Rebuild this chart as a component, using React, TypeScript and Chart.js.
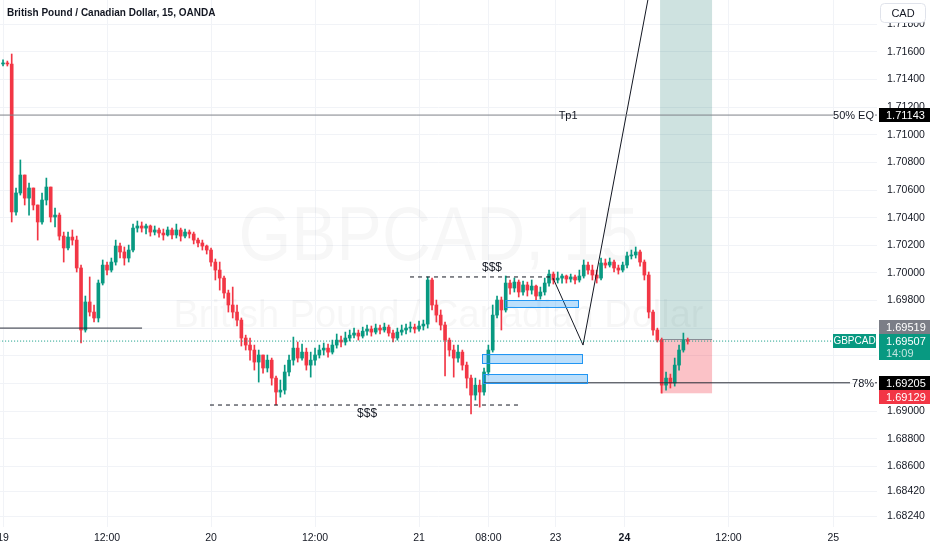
import React, { useEffect, useRef } from "react";
import { Chart, registerables } from "chart.js";

Chart.register(...registerables);

// ---------- DATA ----------
// 30-minute candles, positioned in trading hours from the "19" day start
const firstOpen = 1.71513;
const closes = [
  1.71520, 1.71513, 1.70441, 1.70579, 1.70709, 1.70542, 1.70615, 1.70492, 1.70369, 1.70528,
  1.70622, 1.70405, 1.70419, 1.70267, 1.70181, 1.70260, 1.70238, 1.70036, 1.69587, 1.69790,
  1.69717, 1.69674, 1.69927, 1.70057, 1.70021, 1.70079, 1.70195, 1.70152, 1.70108, 1.70166,
  1.70325, 1.70340, 1.70325, 1.70340, 1.70296, 1.70311, 1.70289, 1.70275, 1.70311, 1.70275,
  1.70311, 1.70267, 1.70296, 1.70282, 1.70238, 1.70217, 1.70195, 1.70166, 1.70079, 1.70021,
  1.69963, 1.69855, 1.69768, 1.69717, 1.69659, 1.69529, 1.69478, 1.69442, 1.69355, 1.69406,
  1.69312, 1.69369, 1.69239, 1.69138, 1.69152, 1.69283, 1.69369, 1.69456, 1.69384, 1.69427,
  1.69333, 1.69369, 1.69406, 1.69442, 1.69456, 1.69427, 1.69478, 1.69514, 1.69500, 1.69529,
  1.69550, 1.69565, 1.69543, 1.69579, 1.69594, 1.69572, 1.69601, 1.69587, 1.69608, 1.69565,
  1.69529, 1.69572, 1.69587, 1.69601, 1.69608, 1.69594, 1.69616, 1.69630, 1.69949, 1.69768,
  1.69695, 1.69623, 1.69514, 1.69442, 1.69384, 1.69427, 1.69333, 1.69239, 1.69116, 1.69188,
  1.69138, 1.69283, 1.69442, 1.69695, 1.69804, 1.69732, 1.69927, 1.69891, 1.69934, 1.69862,
  1.69913, 1.69876, 1.69905, 1.69833, 1.69862, 1.69927, 1.69992, 1.69949, 1.69963, 1.69978,
  1.69956, 1.69971, 1.69949, 1.69978, 1.70057, 1.70021, 1.69985, 1.69963, 1.70072, 1.70057,
  1.70079, 1.70036, 1.70021, 1.70057, 1.70123, 1.70130, 1.70152, 1.70079, 1.69985, 1.69717,
  1.69587, 1.69514, 1.69188, 1.69239, 1.69203, 1.69333, 1.69442, 1.69514, 1.69507,
];
const highs = [
  1.71542, 1.71534, 1.71585, 1.70615, 1.70818, 1.70687, 1.70651, 1.70600, 1.70492, 1.70579,
  1.70687, 1.70615, 1.70470, 1.70434, 1.70296, 1.70296, 1.70311, 1.70267, 1.70057, 1.69833,
  1.69971, 1.69768, 1.69949, 1.70094, 1.70079, 1.70108, 1.70238, 1.70217, 1.70188, 1.70202,
  1.70354, 1.70376, 1.70369, 1.70354, 1.70347, 1.70340, 1.70325, 1.70318, 1.70333, 1.70325,
  1.70354, 1.70325, 1.70318, 1.70311, 1.70296, 1.70253, 1.70238, 1.70202, 1.70181, 1.70101,
  1.70079, 1.69978, 1.69876, 1.69898, 1.69768, 1.69674, 1.69550, 1.69529, 1.69478, 1.69442,
  1.69398, 1.69406, 1.69384, 1.69254, 1.69225, 1.69333, 1.69406, 1.69536, 1.69500, 1.69485,
  1.69456, 1.69427, 1.69456, 1.69478, 1.69493, 1.69485, 1.69514, 1.69558, 1.69543, 1.69572,
  1.69587, 1.69601, 1.69587, 1.69608, 1.69623, 1.69616, 1.69630, 1.69623, 1.69637, 1.69623,
  1.69587, 1.69601, 1.69623, 1.69630, 1.69645, 1.69630, 1.69652, 1.69659, 1.69971, 1.69963,
  1.69804, 1.69732, 1.69645, 1.69529, 1.69478, 1.69478, 1.69442, 1.69355, 1.69261, 1.69239,
  1.69225, 1.69312, 1.69478, 1.69768, 1.69833, 1.69826, 1.69978, 1.69949, 1.69963, 1.69949,
  1.69942, 1.69934, 1.69949, 1.69913, 1.69898, 1.69963, 1.70021, 1.70007, 1.70007, 1.69992,
  1.69985, 1.69992, 1.69985, 1.70021, 1.70094, 1.70079, 1.70057, 1.70021, 1.70108, 1.70101,
  1.70108, 1.70094, 1.70057, 1.70079, 1.70152, 1.70166, 1.70188, 1.70166, 1.70094, 1.70007,
  1.69732, 1.69601, 1.69529, 1.69283, 1.69268, 1.69384, 1.69478, 1.69565, 1.69529,
];
const lows = [
  1.71498, 1.71498, 1.70369, 1.70419, 1.70564, 1.70492, 1.70419, 1.70456, 1.70238, 1.70354,
  1.70492, 1.70369, 1.70333, 1.70238, 1.70079, 1.70166, 1.70202, 1.70007, 1.69493, 1.69572,
  1.69688, 1.69645, 1.69645, 1.69913, 1.69985, 1.70007, 1.70057, 1.70108, 1.70057, 1.70079,
  1.70152, 1.70296, 1.70296, 1.70282, 1.70267, 1.70275, 1.70260, 1.70238, 1.70267, 1.70246,
  1.70253, 1.70231, 1.70253, 1.70253, 1.70210, 1.70188, 1.70166, 1.70137, 1.70050, 1.69949,
  1.69876, 1.69818, 1.69717, 1.69674, 1.69616, 1.69471, 1.69442, 1.69369, 1.69297, 1.69210,
  1.69275, 1.69283, 1.69188, 1.69044, 1.69101, 1.69123, 1.69254, 1.69333, 1.69355, 1.69369,
  1.69297, 1.69246, 1.69333, 1.69384, 1.69406, 1.69391, 1.69413, 1.69456, 1.69464, 1.69478,
  1.69507, 1.69529, 1.69514, 1.69529, 1.69550, 1.69543, 1.69558, 1.69558, 1.69572, 1.69543,
  1.69500, 1.69514, 1.69550, 1.69558, 1.69572, 1.69565, 1.69579, 1.69587, 1.69601, 1.69732,
  1.69645, 1.69587, 1.69254, 1.69398, 1.69246, 1.69355, 1.69297, 1.69167, 1.68979, 1.69080,
  1.69029, 1.69116, 1.69261, 1.69427, 1.69674, 1.69587, 1.69717, 1.69847, 1.69862, 1.69826,
  1.69840, 1.69833, 1.69847, 1.69804, 1.69811, 1.69840, 1.69905, 1.69920, 1.69927, 1.69927,
  1.69927, 1.69934, 1.69920, 1.69934, 1.69963, 1.69992, 1.69949, 1.69927, 1.69949, 1.70036,
  1.70043, 1.70007, 1.69992, 1.70007, 1.70036, 1.70101, 1.70108, 1.70050, 1.69949, 1.69674,
  1.69550, 1.69500, 1.69130, 1.69152, 1.69167, 1.69181, 1.69297, 1.69427, 1.69485,
];
const candleStepHours = 0.5;

const xTickValues = [0, 12, 24, 36, 48, 56, 63.75, 71.7, 83.7, 95.8];
const xTickLabels = ["19", "12:00", "20", "12:00", "21", "08:00", "23", "24", "12:00", "25"];
const boldXTick = "24";
const yTickValues = [
  1.6824, 1.6842, 1.686, 1.688, 1.69, 1.692, 1.694, 1.696, 1.698, 1.7,
  1.702, 1.704, 1.706, 1.708, 1.71, 1.712, 1.714, 1.716, 1.718,
];
const xMin = -0.35;
const xMax = 100.84;
const yMin = 1.68161;
const yMax = 1.71976;

// drawings
const tp1Level = 1.71143;
const fibLevel = 1.69205;
const leftLevel = 1.69601;
const lowSweepLevel = 1.69044;
const highSweepLevel = 1.69971;
const lastPrice = 1.69507;
const entryPrice = 1.69519;
const stopPrice = 1.69129;
const targetPrice = 1.7255;
const zigzagX = [63.46, 66.92, 75.27];
const zigzagY = [1.69963, 1.69478, 1.72266];
const positionX = [75.81, 81.81];
const boxesX0 = [57.92, 55.27, 55.38];
const boxesX1 = [66.35, 66.81, 67.38];
const boxesTop = [1.69804, 1.69413, 1.69268];
const boxesBottom = [1.69753, 1.69348, 1.69203];
const sweepLabelX = [56.42, 42.0];
const sweepLabelY = [1.70036, 1.68979];

const FONT = '"Liberation Sans", Arial, sans-serif';
const GREEN = "#089981";
const RED = "#f23645";
const GRID = "#f1f3f7";
const TEXT = "#131722";

function hline(level: number, x0: number, x1: number, color: string, dash: number[] = [], gapTo?: number[]) {
  const data: any[] = [
    { x: x0, y: level },
    { x: x1, y: level },
  ];
  if (gapTo) {
    data.push({ x: (x1 + gapTo[0]) / 2, y: null });
    data.push({ x: gapTo[0], y: level });
    data.push({ x: gapTo[1], y: level });
  }
  return {
    type: "line",
    data,
    borderColor: color,
    borderWidth: 1,
    borderDash: dash,
    pointRadius: 0,
    spanGaps: false,
    tension: 0,
    order: 0,
  };
}

const drawingsPlugin = {
  id: "drawings",
  beforeDatasetsDraw(chart: any) {
    const { ctx, chartArea: a, scales } = chart;
    const x = scales.x;
    const y = scales.y;
    ctx.save();
    ctx.beginPath();
    ctx.rect(a.left, a.top, a.right - a.left, a.bottom - a.top);
    ctx.clip();
    // watermark
    const cx = (a.left + a.right) / 2;
    ctx.fillStyle = "rgba(19,23,34,0.035)";
    ctx.textAlign = "center";
    ctx.textBaseline = "middle";
    ctx.font = `76px ${FONT}`;
    let w = ctx.measureText("GBPCAD, 15").width;
    ctx.save();
    ctx.translate(cx, 239);
    ctx.scale(400 / w, 1);
    ctx.fillText("GBPCAD, 15", 0, 0);
    ctx.restore();
    ctx.font = `38px ${FONT}`;
    w = ctx.measureText("British Pound / Canadian Dollar").width;
    ctx.save();
    ctx.translate(cx, 317);
    ctx.scale(530 / w, 1);
    ctx.fillText("British Pound / Canadian Dollar", 0, 0);
    ctx.restore();

    // long position zones
    const px0 = x.getPixelForValue(positionX[0]);
    const px1 = x.getPixelForValue(positionX[1]);
    const yT = y.getPixelForValue(targetPrice);
    const yE = y.getPixelForValue(entryPrice);
    const yS = y.getPixelForValue(stopPrice);
    ctx.fillStyle = "rgba(10,110,100,0.2)";
    ctx.fillRect(px0, yT, px1 - px0, yE - yT);
    ctx.fillStyle = "rgba(242,54,69,0.3)";
    ctx.fillRect(px0, yE, px1 - px0, yS - yE);
    ctx.strokeStyle = "#8a8d96";
    ctx.lineWidth = 1;
    ctx.beginPath();
    ctx.moveTo(px0, Math.round(yE) + 0.5);
    ctx.lineTo(px1, Math.round(yE) + 0.5);
    ctx.stroke();
    ctx.restore();
  },
  afterDatasetsDraw(chart: any) {
    const { ctx, scales } = chart;
    const x = scales.x;
    const y = scales.y;
    ctx.save();
    // boxes
    for (let i = 0; i < boxesX0.length; i++) {
      const bx0 = Math.round(x.getPixelForValue(boxesX0[i])) + 0.5;
      const bx1 = Math.round(x.getPixelForValue(boxesX1[i])) + 0.5;
      const by0 = Math.round(y.getPixelForValue(boxesTop[i])) + 0.5;
      const by1 = Math.round(y.getPixelForValue(boxesBottom[i])) + 0.5;
      ctx.fillStyle = "rgba(33,150,243,0.3)";
      ctx.fillRect(bx0, by0, bx1 - bx0, by1 - by0);
      ctx.strokeStyle = "#2196f3";
      ctx.lineWidth = 1;
      ctx.strokeRect(bx0, by0, bx1 - bx0, by1 - by0);
    }
    // texts
    ctx.fillStyle = TEXT;
    ctx.textAlign = "center";
    ctx.textBaseline = "middle";
    ctx.font = `11px ${FONT}`;
    ctx.fillText("Tp1", x.getPixelForValue(65.2), y.getPixelForValue(tp1Level) + 1);
    ctx.fillText("50% EQ", x.getPixelForValue(98.13), y.getPixelForValue(tp1Level) + 1);
    ctx.fillText("78%", x.getPixelForValue(99.23), y.getPixelForValue(fibLevel) + 1);
    ctx.font = `12px ${FONT}`;
    for (let i = 0; i < sweepLabelX.length; i++) {
      ctx.fillText("$$$", x.getPixelForValue(sweepLabelX[i]), y.getPixelForValue(sweepLabelY[i]));
    }
    ctx.restore();
  },
  afterDraw(chart: any) {
    const { ctx, chartArea: a, scales } = chart;
    const y = scales.y;
    ctx.save();
    ctx.font = `11px ${FONT}`;
    ctx.textBaseline = "middle";
    const tag = (text: string, top: number, h: number, bg: string, fg: string, sub?: string) => {
      ctx.fillStyle = bg;
      ctx.fillRect(a.right + 2, top, 51, h);
      ctx.fillStyle = fg;
      ctx.textAlign = "left";
      ctx.fillText(text, a.right + 9, top + 7.5);
      if (sub) {
        ctx.fillStyle = "rgba(255,255,255,0.75)";
        ctx.fillText(sub, a.right + 9, top + 19.5);
      }
    };
    const tpY = Math.round(y.getPixelForValue(tp1Level));
    tag(tp1Level.toFixed(5), tpY - 7, 14, "#000000", "#ffffff");
    const lastY = Math.round(y.getPixelForValue(lastPrice));
    tag(lastPrice.toFixed(5), lastY - 7, 26, GREEN, "#ffffff", "14:09");
    tag(entryPrice.toFixed(5), lastY - 21, 14, "#7b7e87", "#ffffff");
    const fibY = Math.round(y.getPixelForValue(fibLevel));
    tag(fibLevel.toFixed(5), fibY - 7, 14, "#000000", "#ffffff");
    tag(stopPrice.toFixed(5), fibY + 7, 14, RED, "#ffffff");
    // symbol tag inside the pane
    ctx.fillStyle = GREEN;
    ctx.fillRect(a.right - 44, lastY - 7, 43, 14);
    ctx.fillStyle = "#ffffff";
    ctx.textAlign = "center";
    ctx.font = `10px ${FONT}`;
    ctx.fillText("GBPCAD", a.right - 22.5, lastY + 0.5);
    // currency button
    ctx.font = `11px ${FONT}`;
    ctx.fillStyle = "#ffffff";
    ctx.strokeStyle = "#e0e3eb";
    ctx.lineWidth = 1;
    ctx.beginPath();
    (ctx as any).roundRect(880.5, 3.5, 45, 19, 4);
    ctx.fill();
    ctx.stroke();
    ctx.fillStyle = TEXT;
    ctx.textAlign = "center";
    ctx.fillText("CAD", 903, 13.5);
    // title
    ctx.textAlign = "left";
    ctx.font = `bold 10px ${FONT}`;
    ctx.fillText("British Pound / Canadian Dollar, 15, OANDA", 7, 13.5);
    ctx.restore();
  },
};

export default function App() {
  const ref = useRef<HTMLCanvasElement | null>(null);
  useEffect(() => {
    if (!ref.current) return;
    const opens = closes.map((c, i) => (i === 0 ? firstOpen : closes[i - 1]));
    const xs = closes.map((_, i) => i * candleStepHours);
    const colors = closes.map((c, i) => (c >= opens[i] ? GREEN : RED));
    const bodies = closes.map((c, i) => ({ x: xs[i], y: [opens[i], c] }));
    const wicks = closes.map((c, i) => ({
      x: xs[i],
      y: [Math.min(lows[i], opens[i], c), Math.max(highs[i], opens[i], c)],
    }));

    const chart = new Chart(ref.current, {
      type: "bar",
      data: {
        datasets: [
          hline(tp1Level, xMin - 0.1, 95.77, "#7e8189", [], [100.6, xMax + 0.5]) as any,
          hline(fibLevel, 55.38, 97.73, "#2a2e39", [], [100.6, xMax + 0.5]) as any,
          hline(leftLevel, xMin - 0.1, 16.04, "#2a2e39") as any,
          hline(lowSweepLevel, 23.88, 59.65, "#131722", [4, 4]) as any,
          hline(highSweepLevel, 46.96, 63.11, "#131722", [4, 4]) as any,
          hline(lastPrice, xMin - 0.1, 95.77, GREEN, [1, 2]) as any,
          {
            type: "line",
            data: zigzagX.map((v, i) => ({ x: v, y: zigzagY[i] })),
            borderColor: "#131722",
            borderWidth: 1,
            pointRadius: 0,
            tension: 0,
            order: 0,
          } as any,
          {
            type: "bar",
            data: bodies as any,
            backgroundColor: colors,
            borderWidth: 0,
            barThickness: 3,
            minBarLength: 1,
            grouped: false,
            order: 1,
          } as any,
          {
            type: "bar",
            data: wicks as any,
            backgroundColor: colors,
            borderWidth: 0,
            barThickness: 1,
            grouped: false,
            order: 2,
          } as any,
        ],
      },
      options: {
        animation: false,
        responsive: false,
        events: [],
        layout: { padding: 0 },
        plugins: { legend: { display: false }, tooltip: { enabled: false } },
        scales: {
          x: {
            type: "linear",
            min: xMin,
            max: xMax,
            offset: false,
            grid: { color: GRID, drawTicks: false, offset: false },
            border: { display: false },
            afterBuildTicks: (axis: any) => {
              axis.ticks = xTickValues.map((v) => ({ value: v }));
            },
            afterFit: (axis: any) => {
              axis.height = 23;
              axis.paddingLeft = 0;
              axis.paddingRight = 0;
            },
            ticks: {
              autoSkip: false,
              maxRotation: 0,
              padding: 5,
              color: TEXT,
              font: (c: any) => {
                const idx = c.tick ? xTickValues.indexOf(c.tick.value) : -1;
                return {
                  family: FONT,
                  size: 10.5,
                  weight: idx >= 0 && xTickLabels[idx] === boldXTick ? "bold" : "normal",
                };
              },
              callback: (v: any) => {
                const idx = xTickValues.indexOf(Number(v));
                return idx >= 0 ? xTickLabels[idx] : "";
              },
            },
          } as any,
          y: {
            type: "linear",
            position: "right",
            min: yMin,
            max: yMax,
            grid: { color: GRID, drawTicks: false },
            border: { display: false },
            afterBuildTicks: (axis: any) => {
              axis.ticks = yTickValues.map((v) => ({ value: v }));
            },
            afterFit: (axis: any) => {
              axis.width = 55;
              axis.paddingTop = 0;
              axis.paddingBottom = 0;
            },
            ticks: {
              padding: 10,
              color: TEXT,
              font: { family: FONT, size: 10.5 },
              callback: (v: any) => Number(v).toFixed(5),
            },
          } as any,
        },
      },
      plugins: [drawingsPlugin],
    } as any);
    return () => chart.destroy();
  }, []);

  return (
    <div style={{ position: "fixed", left: 0, top: 0, width: 932, height: 550, background: "#ffffff" }}>
      <canvas ref={ref} width={932} height={550} style={{ display: "block" }} />
    </div>
  );
}
